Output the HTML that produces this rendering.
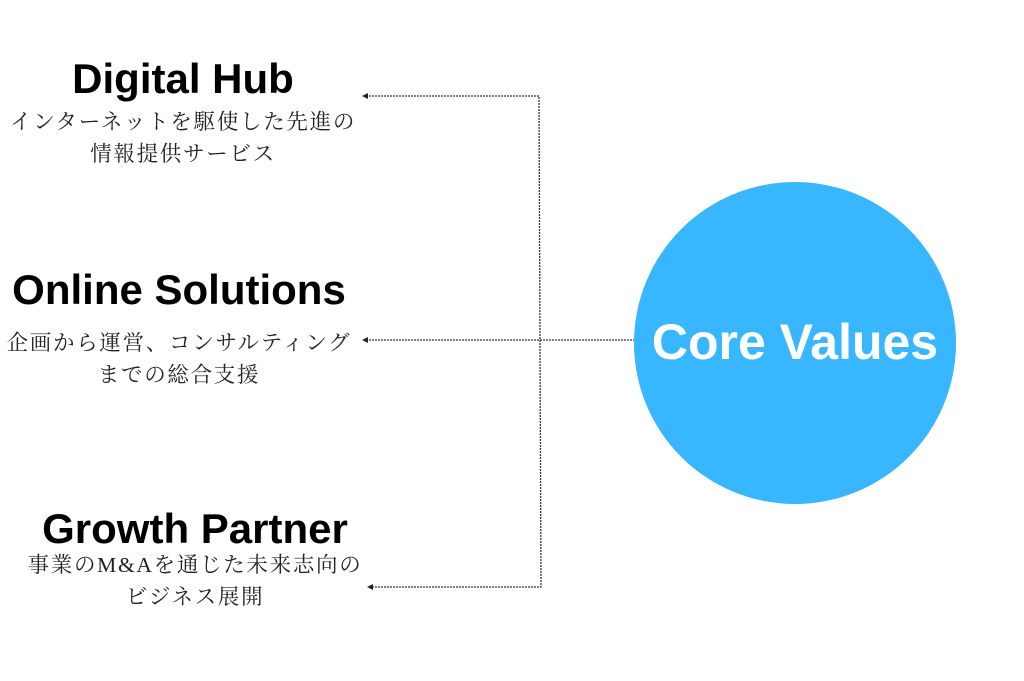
<!DOCTYPE html>
<html><head><meta charset="utf-8"><style>
body{margin:0;width:1024px;height:681px;background:#fff;position:relative;overflow:hidden;font-family:"Liberation Sans",sans-serif}
.h{position:absolute;font-weight:bold;font-size:42px;color:#000;text-align:center;width:400px;letter-spacing:0px;line-height:48px}
.j{position:absolute;font-family:"Liberation Serif","Noto Serif CJK SC",serif;font-size:21.5px;line-height:32px;color:#222;text-align:center;width:420px;letter-spacing:1.7px}
</style></head><body>
<svg width="1024" height="681" style="position:absolute;left:0;top:0">
<circle cx="795" cy="343" r="161" fill="#38b6ff"/>
<g stroke="#333" stroke-width="1.3" stroke-dasharray="2,1" fill="none">
<polyline points="366,96 539,96 541,587 370,587"/>
<line x1="366" y1="340" x2="634" y2="340"/>
</g>
<g fill="#222">
<polygon points="362,96 368,93 368,99"/>
<polygon points="362,340 368,337 368,343"/>
<polygon points="367,587 373,584 373,590"/>
</g>
<text x="795" y="359" text-anchor="middle" font-family="Liberation Sans" font-weight="bold" font-size="50" fill="#fff">Core Values</text>
</svg>
<div class="h" style="left:-17px;top:55px">Digital Hub</div>
<div class="j" style="left:-27px;top:106px">インターネットを駆使した先進の<br>情報提供サービス</div>
<div class="h" style="left:-21px;top:266px">Online Solutions</div>
<div class="j" style="left:-31px;top:327px">企画から運営、コンサルティング<br>までの総合支援</div>
<div class="h" style="left:-5px;top:505px">Growth Partner</div>
<div class="j" style="left:-15px;top:549px">事業のM&amp;Aを通じた未来志向の<br>ビジネス展開</div>
</body></html>
